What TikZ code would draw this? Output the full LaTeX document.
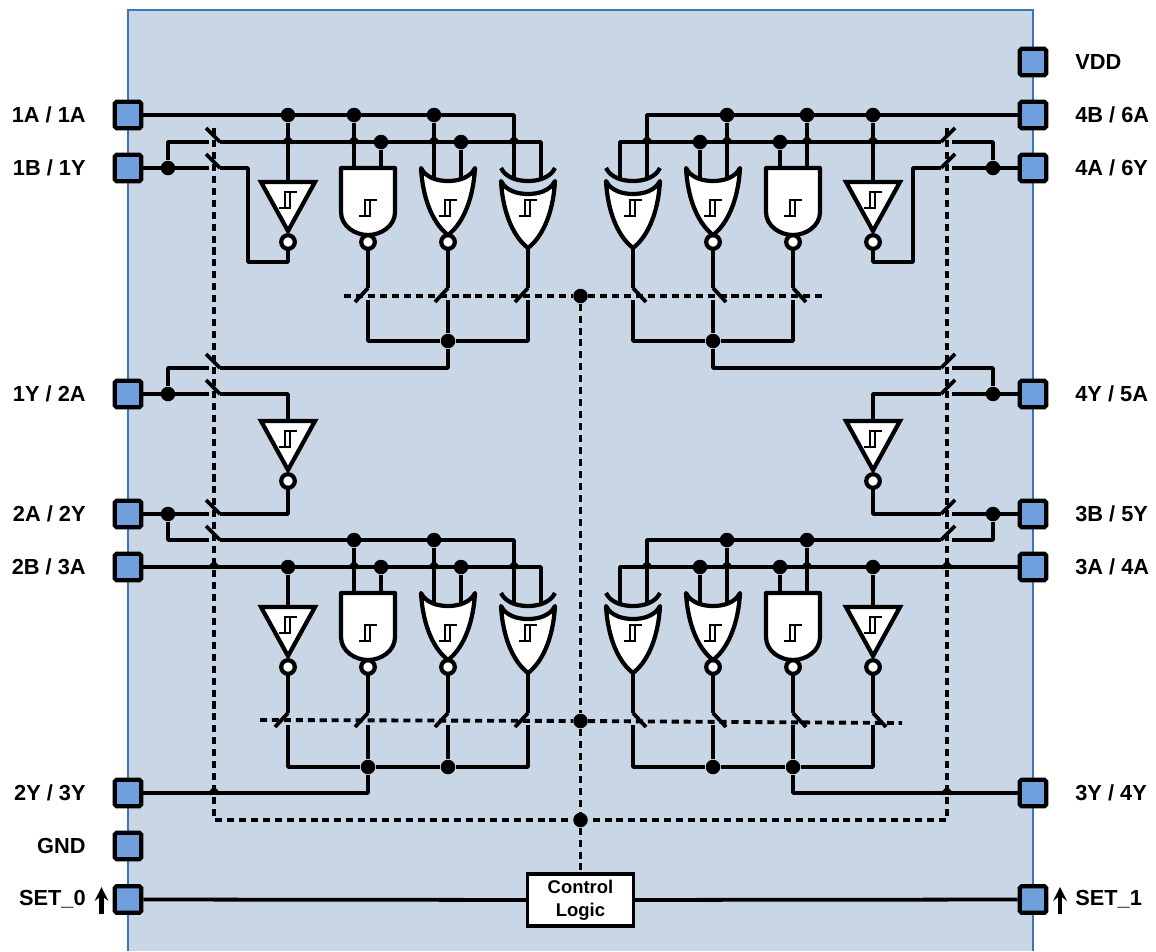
\documentclass[tikz,border=0pt]{standalone}
\usepackage{fontspec}
\setmainfont{Liberation Sans}
\usetikzlibrary{arrows}
\definecolor{panelfill}{HTML}{C8D6E6}
\definecolor{panelline}{HTML}{3F74B8}
\definecolor{pinfill}{HTML}{6F9FDC}
\tikzset{
  wire/.style={line width=2.15pt, line join=round},
  ctrl/.style={line width=2.2pt, dash pattern=on 4pt off 2.8pt},
  gatebody/.style={line width=2.4pt, fill=white, line join=round},
  hystline/.style={line width=.8pt},
  jdot/.style={circle, fill=black, inner sep=0pt, minimum size=.29cm},
  pinbox/.style={rectangle, draw=black, line width=2.4pt, fill=pinfill, rounded corners=1pt, inner sep=0pt, minimum size=.53cm},
  pinlabel/.style={font=\fontsize{12.4}{14}\selectfont\bfseries, inner sep=0pt},
  hyst/.pic={
    \draw[hystline] (-9,8) -- (2,8) -- (2,-8) (-3,8) -- (-3,-8) -- (9,-8);
  },
  bubble/.pic={
    \draw[gatebody] (0,0) circle (6.8);
  },
  invgate/.pic={
    \draw[gatebody, line join=miter] (-27,14) -- (27,14) -- (0,63) -- cycle;
    \pic at (0,32) {hyst};
    \pic at (0,74) {bubble};
    \coordinate (-in) at (0,14);
    \coordinate (-out) at (0,81);
  },
  nandgate/.pic={
    \draw[gatebody] (-27,0) -- (27,0) -- (27,44) .. controls (27,58) and (13,67) .. (0,67) .. controls (-13,67) and (-27,58) .. (-27,44) -- cycle;
    \pic at (0,40) {hyst};
    \pic at (0,74) {bubble};
    \coordinate (-a) at (-14,0);
    \coordinate (-b) at (13,0);
    \coordinate (-out) at (0,81);
  },
  norgate/.pic={
    \draw[gatebody] (-27,0) .. controls (-22,10) and (-10,13) .. (0,13) .. controls (10,13) and (22,10) .. (27,0) .. controls (25,35) and (13,57) .. (0,67) .. controls (-13,57) and (-25,35) .. (-27,0) -- cycle;
    \pic at (0,40) {hyst};
    \pic at (0,74) {bubble};
    \coordinate (-a) at (-14,11);
    \coordinate (-b) at (13,11);
    \coordinate (-out) at (0,81);
  },
  xorgate/.pic={
    \draw[line width=2.4pt] (-27,0) .. controls (-22,10) and (-10,13) .. (0,13) .. controls (10,13) and (22,10) .. (27,0);
    \draw[gatebody] (-27,13) .. controls (-22,23) and (-10,26) .. (0,26) .. controls (10,26) and (22,23) .. (27,13) .. controls (25,48) and (13,70) .. (0,80) .. controls (-13,70) and (-25,48) .. (-27,13) -- cycle;
    \pic at (0,40) {hyst};
    \coordinate (-a) at (-14,11);
    \coordinate (-b) at (13,11);
    \coordinate (-out) at (0,80);
  },
  hsw/.pic={
    \draw[wire] (0,0) -- (-14,-14);
    \coordinate (-l) at (-11,0);
    \coordinate (-r) at (0,0);
  },
  vsw/.pic={
    \draw[wire] (0,0) -- (-13,14);
    \coordinate (-t) at (0,0);
    \coordinate (-b) at (0,12);
  },
  hop/.pic={
    \draw[wire] (-5,1) -- (0,-4) -- (5,1);
  },
}
\begin{document}
\begin{tikzpicture}[x=.02cm, y=-.02cm, >=stealth]
\useasboundingbox (0,0) rectangle (1156,951);
\fill[panelfill] (128,10) rectangle (1033,951);
\draw[panelline, line width=.9pt] (128,951) -- (128,10) -- (1033,10) -- (1033,951);

% pins
\foreach \nm/\py in {pA/115, pB/168, pC/394, pD/514, pE/567, pF/793, pS/899.5} {
  \node[pinbox] (L\nm) at (128,\py) {};
  \node[pinbox] (R\nm) at (1033,\py) {};
}
\node[pinbox] (Lgnd) at (128,846) {};
\node[pinbox] (Rvdd) at (1033,62) {};

\node[pinlabel, anchor=east] (lab1A) at (86,115) {1A / 1A};
\node[pinlabel, anchor=east] (lab1B) at (86,168) {1B / 1Y};
\node[pinlabel, anchor=east] (lab1Y) at (86,394) {1Y / 2A};
\node[pinlabel, anchor=east] (lab2A) at (86,514) {2A / 2Y};
\node[pinlabel, anchor=east] (lab2B) at (86,567) {2B / 3A};
\node[pinlabel, anchor=east] (lab2Y) at (86,793) {2Y / 3Y};
\node[pinlabel, anchor=east] (labG) at (86,846) {GND};
\node[pinlabel, anchor=east] (labS0) at (86,899) {SET\_0};
\node[pinlabel, anchor=west] (labV) at (1075,62) {VDD};
\node[pinlabel, anchor=west] (lab4B) at (1075,115) {4B / 6A};
\node[pinlabel, anchor=west] (lab4A) at (1075,168) {4A / 6Y};
\node[pinlabel, anchor=west] (lab4Y) at (1075,394) {4Y / 5A};
\node[pinlabel, anchor=west] (lab3B) at (1075,514) {3B / 5Y};
\node[pinlabel, anchor=west] (lab3A) at (1075,567) {3A / 4A};
\node[pinlabel, anchor=west] (lab3Y) at (1075,793) {3Y / 4Y};
\node[pinlabel, anchor=west] (labS1) at (1075,899) {SET\_1};

\coordinate (arL0) at (101.5,914);
\coordinate (arL1) at (101.5,887);
\coordinate (arR0) at (1060,914);
\coordinate (arR1) at (1060,887);
\draw[->, line width=2.4pt] (arL0) -- (arL1);
\draw[->, line width=2.4pt] (arR0) -- (arR1);

\node[draw, line width=1.9pt, fill=white, minimum width=2.12cm, minimum height=1.04cm, align=center, inner sep=0pt, font=\fontsize{10.5}{13.2}\selectfont\bfseries] (logic) at (580.5,900) {Control\\Logic};
\draw[wire] (LpS) -- (logic);
\draw[wire] (logic) -- (RpS);

% both halves, the right one mirrored
\foreach \side/\sx/\ox in {L/1/0, R/-1/1161} {
\begin{scope}[shift={(\ox,0)}, xscale=\sx]
  \pic[xscale=\sx] (\side g1) at (288,168) {invgate};
  \pic[xscale=\sx] (\side g2) at (368,168) {nandgate};
  \pic[xscale=\sx] (\side g3) at (448,168) {norgate};
  \pic[xscale=\sx] (\side g4) at (528,168) {xorgate};
  \pic[xscale=\sx] (\side g5) at (288,593) {invgate};
  \pic[xscale=\sx] (\side g6) at (368,593) {nandgate};
  \pic[xscale=\sx] (\side g7) at (448,593) {norgate};
  \pic[xscale=\sx] (\side g8) at (528,593) {xorgate};
  \pic[xscale=\sx] (\side g9) at (288,407) {invgate};

  \pic[xscale=\sx] (\side s1) at (220,142) {hsw};
  \pic[xscale=\sx] (\side s2) at (220,168) {hsw};
  \pic[xscale=\sx] (\side s3) at (220,368) {hsw};
  \pic[xscale=\sx] (\side s4) at (220,394) {hsw};
  \pic[xscale=\sx] (\side s5) at (220,514) {hsw};
  \pic[xscale=\sx] (\side s6) at (220,540) {hsw};
  \pic[xscale=\sx] (\side o2) at (368,288) {vsw};
  \pic[xscale=\sx] (\side o3) at (448,288) {vsw};
  \pic[xscale=\sx] (\side o4) at (528,288) {vsw};
  \pic[xscale=\sx] (\side o5) at (288,713) {vsw};
  \pic[xscale=\sx] (\side o6) at (368,713) {vsw};
  \pic[xscale=\sx] (\side o7) at (448,713) {vsw};
  \pic[xscale=\sx] (\side o8) at (528,713) {vsw};

  \node[jdot] (\side a1) at (288,115) {};
  \node[jdot] (\side a2) at (354,115) {};
  \node[jdot] (\side a3) at (434,115) {};
  \coordinate (\side a4) at (514,115);
  \node[jdot] (\side b0) at (168,168) {};
  \node[jdot] (\side b2) at (381,142) {};
  \node[jdot] (\side b3) at (461,142) {};
  \coordinate (\side b4) at (541,142);
  \coordinate (\side k1) at (248,262);
  \node[jdot] (\side m1) at (448,341) {};
  \node[jdot] (\side c0) at (168,394) {};
  \node[jdot] (\side d0) at (168,514) {};
  \node[jdot] (\side e2) at (354,540) {};
  \node[jdot] (\side e3) at (434,540) {};
  \coordinate (\side e4) at (514,540);
  \node[jdot] (\side f1) at (288,567) {};
  \node[jdot] (\side f2) at (381,567) {};
  \node[jdot] (\side f3) at (461,567) {};
  \coordinate (\side f4) at (541,567);
  \node[jdot] (\side n2) at (368,767) {};
  \node[jdot] (\side n3) at (448,767) {};
  \coordinate (\side v0) at (214,128);

  \draw[wire] (\side pA) -- (\side a4) -- (\side g4-a);
  \draw[wire] (\side a1) -- (\side g1-in);
  \draw[wire] (\side a2) -- (\side g2-a);
  \draw[wire] (\side a3) -- (\side g3-a);
  \draw[wire] (\side pB) -- (\side s2-l);
  \draw[wire] (\side b0) |- (\side s1-l);
  \draw[wire] (\side s1-r) -- (\side b4) -- (\side g4-b);
  \draw[wire] (\side b2) -- (\side g2-b);
  \draw[wire] (\side b3) -- (\side g3-b);
  \draw[wire] (\side s2-r) -| (\side k1) -| (\side g1-out);

  \draw[wire] (\side g2-out) -- (\side o2-t);
  \draw[wire] (\side g3-out) -- (\side o3-t);
  \draw[wire] (\side g4-out) -- (\side o4-t);
  \draw[wire] (\side o2-b) |- (\side m1);
  \draw[wire] (\side o3-b) -- (\side m1);
  \draw[wire] (\side o4-b) |- (\side m1);
  \draw[wire] (\side m1) |- (\side s3-r);

  \draw[wire] (\side pC) -- (\side s4-l);
  \draw[wire] (\side c0) |- (\side s3-l);
  \draw[wire] (\side s4-r) -| (\side g9-in);
  \draw[wire] (\side g9-out) |- (\side s5-r);
  \draw[wire] (\side pD) -- (\side s5-l);
  \draw[wire] (\side d0) |- (\side s6-l);
  \draw[wire] (\side s6-r) -- (\side e4) -- (\side g8-a);
  \draw[wire] (\side e2) -- (\side g6-a);
  \draw[wire] (\side e3) -- (\side g7-a);
  \draw[wire] (\side pE) -- (\side f4) -- (\side g8-b);
  \draw[wire] (\side f1) -- (\side g5-in);
  \draw[wire] (\side f2) -- (\side g6-b);
  \draw[wire] (\side f3) -- (\side g7-b);

  \draw[wire] (\side g5-out) -- (\side o5-t);
  \draw[wire] (\side g6-out) -- (\side o6-t);
  \draw[wire] (\side g7-out) -- (\side o7-t);
  \draw[wire] (\side g8-out) -- (\side o8-t);
  \draw[wire] (\side o5-b) |- (\side n2);
  \draw[wire] (\side o6-b) -- (\side n2);
  \draw[wire] (\side o7-b) -- (\side n3);
  \draw[wire] (\side o8-b) |- (\side n3);
  \draw[wire] (\side n2) -- (\side n3);
  \draw[wire] (\side n2) |- (\side pF);

  \foreach \hx/\hy in {288/142, 354/142, 434/142, 514/142, 214/567, 354/567, 434/567, 514/567, 214/793}
    \pic at (\hx,\hy) {hop};
\end{scope}
}

% control lines
\node[jdot] (cd1) at (580.5,296) {};
\node[jdot] (cd2) at (580.5,721) {};
\node[jdot] (cd3) at (580.5,820) {};
\coordinate (hl1) at (344,296);
\coordinate (hr1) at (822,296);
\coordinate (hl2) at (260,720);
\coordinate (hr2) at (902,723);
\draw[ctrl] (hl1) -- (cd1) -- (hr1);
\draw[ctrl] (hl2) -- (cd2) -- (hr2);
\draw[ctrl] (cd1) -- (cd2) -- (cd3) -- (logic);
\draw[ctrl] (Lv0) |- (cd3);
\draw[ctrl] (Rv0) |- (cd3);
\end{tikzpicture}
\end{document}
